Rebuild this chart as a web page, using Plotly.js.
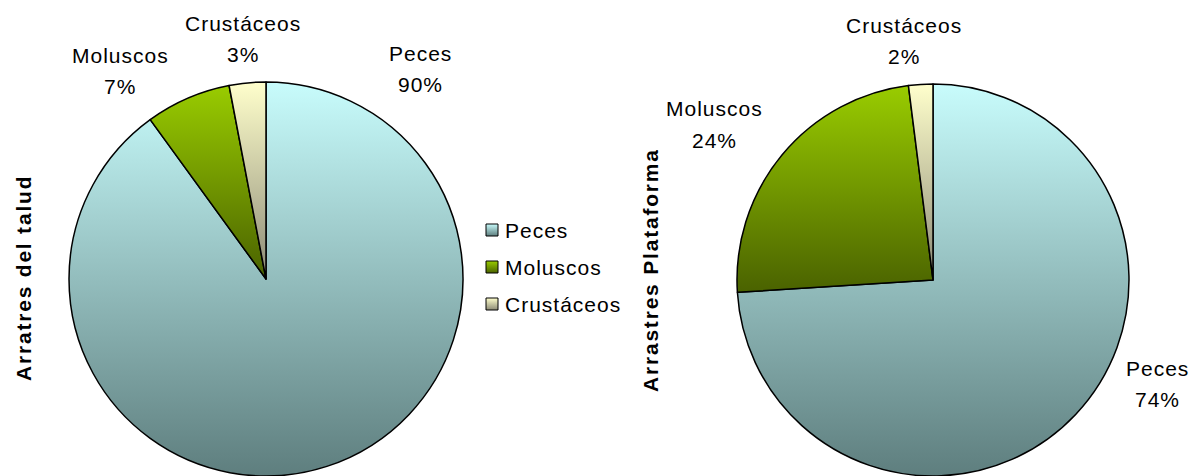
<!DOCTYPE html>
<html>
<head>
<meta charset="utf-8">
<script src="https://cdn.plot.ly/plotly-3.0.1.min.js"></script>
<style>
html,body{margin:0;padding:0;background:#fff;overflow:hidden;}
#chart{width:1191px;height:476px;}
svg text{letter-spacing:1px;}
svg text tspan[style*="bold"]{letter-spacing:1.8px;}
</style>
</head>
<body>
<div id="chart"></div>
<script>
// ---- Data ----
const categories = ["Peces", "Moluscos", "Crustáceos"];
const taludValues = [90, 7, 3];
const plataformaValues = [74, 24, 2];
const taludTitle = "Arratres del talud";
const plataformaTitle = "Arrastres Plataforma";

// gradient colours (top -> bottom) per category
const gradTop = ["#C8FCFC", "#99CC00", "#FFFFCC"];
const gradBottom = ["#5E7E7E", "#4A6200", "#8C8A76"];
const solidCols = ["#94BDBD", "#729800", "#C6C4A2"];

const W = 1191, H = 476;
const px = x => x / W;
const py = y => 1 - y / H;
const FONT = "Liberation Sans, Arial, sans-serif";

function pctStrings(vals) {
  const s = vals.reduce((a, b) => a + b, 0);
  return vals.map(v => Math.round(v / s * 100) + "%");
}

const traces = [
  {
    type: "pie", labels: categories, values: taludValues, sort: false,
    direction: "clockwise", rotation: 0, textinfo: "none", hoverinfo: "label+percent",
    marker: {colors: solidCols, line: {color: "#000", width: 1.5}},
    domain: {x: [px(69), px(463)], y: [0, py(82)]}, showlegend: false
  },
  {
    type: "pie", labels: categories, values: plataformaValues, sort: false,
    direction: "clockwise", rotation: 0, textinfo: "none", hoverinfo: "label+percent",
    marker: {colors: solidCols, line: {color: "#000", width: 1.5}},
    domain: {x: [px(737), px(1129)], y: [0, py(84)]}, showlegend: false
  }
];

const lblFont = {family: FONT, size: 21, color: "#000"};
const annotations = [];
function addLabel(text, x, y) {
  annotations.push({text: text, x: px(x), y: py(y), xref: "paper", yref: "paper",
    xanchor: "center", yanchor: "middle", showarrow: false, font: lblFont});
}
// slice labels: name + percent
const tPct = pctStrings(taludValues);
const pPct = pctStrings(plataformaValues);
const taludPos = [[420, 53], [120, 55], [243, 23]];
const platPos = [[1157, 368], [714, 109], [904, 25]];
categories.forEach((c, i) => {
  addLabel(c, taludPos[i][0], taludPos[i][1]);
  addLabel(tPct[i], taludPos[i][0], taludPos[i][1] + 31);
  addLabel(c, platPos[i][0], platPos[i][1]);
  addLabel(pPct[i], platPos[i][0], platPos[i][1] + 31);
});
// side titles
const titleFont = {family: FONT, size: 21, color: "#000"};
annotations.push({text: "<b>" + taludTitle + "</b>", x: px(23), y: py(278), xref: "paper", yref: "paper",
  textangle: -90, showarrow: false, font: titleFont, xanchor: "center", yanchor: "middle"});
annotations.push({text: "<b>" + plataformaTitle + "</b>", x: px(650), y: py(270), xref: "paper", yref: "paper",
  textangle: -90, showarrow: false, font: titleFont, xanchor: "center", yanchor: "middle"});

// legend (squares + text)
const legendRows = [230, 267, 304];
const shapes = [];
categories.forEach((c, i) => {
  shapes.push({type: "rect", xref: "paper", yref: "paper",
    x0: px(486), x1: px(498), y0: py(legendRows[i] + 6), y1: py(legendRows[i] - 6),
    fillcolor: solidCols[i], line: {color: "#000", width: 1}});
  annotations.push({text: c, x: px(503), y: py(legendRows[i]), xref: "paper", yref: "paper",
    xanchor: "left", yanchor: "middle", showarrow: false, font: lblFont});
});

const layout = {
  width: W, height: H,
  margin: {l: 0, r: 0, t: 0, b: 0},
  paper_bgcolor: "#fff", plot_bgcolor: "#fff",
  showlegend: false,
  annotations: annotations,
  shapes: shapes,
  font: {family: FONT}
};

Plotly.newPlot("chart", traces, layout, {staticPlot: true, displayModeBar: false}).then(gd => {
  const svg = gd.querySelector(".main-svg");
  const NS = "http://www.w3.org/2000/svg";
  let defs = svg.querySelector("defs");
  if (!defs) { defs = document.createElementNS(NS, "defs"); svg.insertBefore(defs, svg.firstChild); }
  categories.forEach((c, i) => {
    const g = document.createElementNS(NS, "linearGradient");
    g.setAttribute("id", "grad" + i);
    g.setAttribute("x1", "0"); g.setAttribute("y1", "0");
    g.setAttribute("x2", "0"); g.setAttribute("y2", "1");
    const s1 = document.createElementNS(NS, "stop");
    s1.setAttribute("offset", "0"); s1.setAttribute("stop-color", gradTop[i]);
    const s2 = document.createElementNS(NS, "stop");
    s2.setAttribute("offset", "1"); s2.setAttribute("stop-color", gradBottom[i]);
    g.appendChild(s1); g.appendChild(s2);
    defs.appendChild(g);
  });
  gd.querySelectorAll(".pielayer .trace").forEach(tr => {
    tr.querySelectorAll("g.slice").forEach((sl, j) => {
      const d = sl.__data__;
      let idx = j;
      if (d && d.label !== undefined) { const k = categories.indexOf(d.label); if (k >= 0) idx = k; }
      const p = sl.querySelector("path.surface");
      if (p) p.style.fill = "url(#grad" + idx + ")";
    });
  });
  const shapePaths = gd.querySelectorAll(".shapelayer path");
  shapePaths.forEach((p, i) => { if (i < categories.length) p.style.fill = "url(#grad" + i + ")"; });
});
</script>
</body>
</html>
